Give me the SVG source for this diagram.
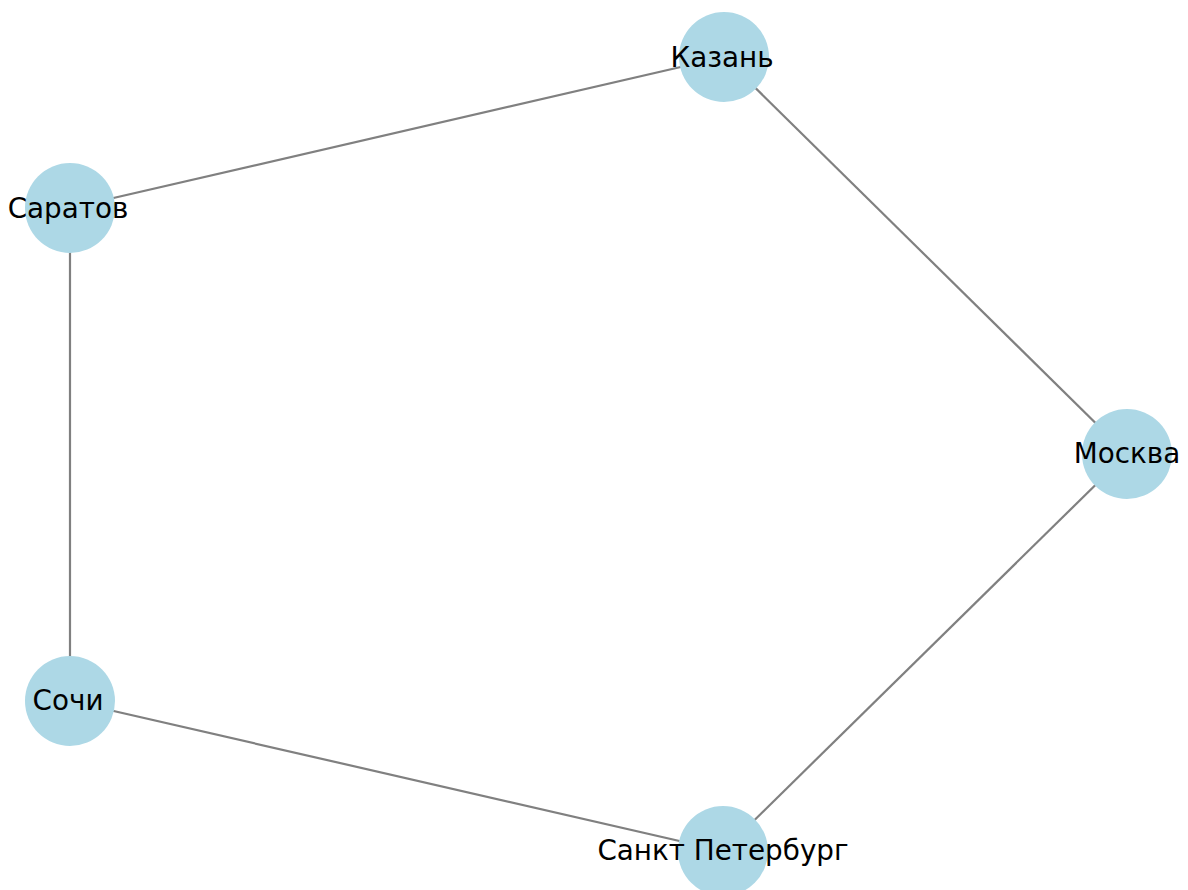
<svg xmlns="http://www.w3.org/2000/svg" width="1188" height="890" viewBox="0 0 1188 890">
<style>
.e{stroke:#808080;stroke-width:2.2;fill:none}
.n{fill:#add8e6}
.t{font-family:"DejaVu Sans",sans-serif;font-size:27.8px;fill:#000;text-anchor:middle;dominant-baseline:central}
</style>
<rect width="1188" height="890" fill="#fff"/>
<g id="edges">
<line class="e" x1="724" y1="57" x2="70" y2="208"/>
<line class="e" x1="724" y1="57" x2="1127" y2="454"/>
<line class="e" x1="70" y1="208" x2="70" y2="701"/>
<line class="e" x1="70" y1="701" x2="723" y2="851"/>
<line class="e" x1="1127" y1="454" x2="723" y2="851"/>
</g>
<g id="kazan"><circle class="n" cx="724" cy="57" r="45"/><text class="t" x="722" y="57">Казань</text></g>
<g id="saratov"><circle class="n" cx="70" cy="208" r="45"/><text class="t" x="68" y="208">Саратов</text></g>
<g id="moskva"><circle class="n" cx="1127" cy="454" r="45"/><text class="t" x="1127" y="453">Москва</text></g>
<g id="sochi"><circle class="n" cx="70" cy="701" r="45"/><text class="t" x="68" y="700">Сочи</text></g>
<g id="spb"><circle class="n" cx="723" cy="851" r="45"/><text class="t" x="723" y="850">Санкт Петербург</text></g>
</svg>
